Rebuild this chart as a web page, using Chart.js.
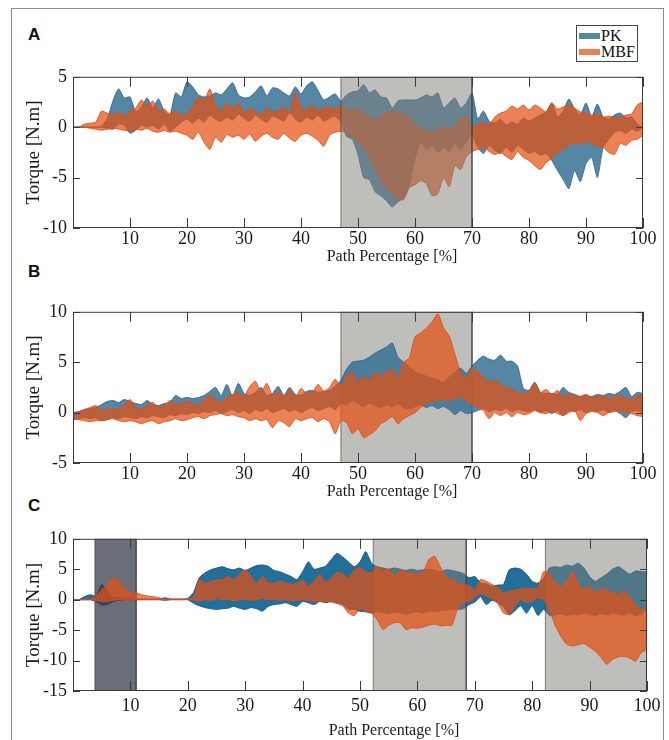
<!DOCTYPE html>
<html>
<head>
<meta charset="utf-8">
<script src="https://cdn.jsdelivr.net/npm/chart.js@4.4.0/dist/chart.umd.min.js"></script>
<style>
  body { margin: 0; background: #fff; width: 669px; height: 740px; overflow: hidden; position: relative; font-family: 'Liberation Serif', 'Times New Roman', serif; }
  .frame { position: absolute; left: 11px; top: 8px; width: 651px; height: 800px; border: 1px solid #8a8a8a; }
  .tag { position: absolute; left: 28px; font: bold 17px 'Liberation Sans', Arial, sans-serif; line-height: 18px; color: #111; }
  canvas { position: absolute; left: 0; }
  .legend { position: absolute; left: 576px; top: 25px; width: 62px; height: 37px; border: 1px solid #444; box-sizing: border-box; background: #fff; padding-top: 2px; }
  .legend .row { display: flex; align-items: center; height: 16px; font-size: 16px; color: #111; }
  .legend .sw { width: 21px; height: 6px; margin: 0 1px 0 2px; }
</style>
</head>
<body>
<div class="frame"></div>
<div class="tag" style="top:26px">A</div>
<div class="tag" style="top:263px">B</div>
<div class="tag" style="top:497px">C</div>
<canvas id="chartA" width="669" height="206" style="top:60px"></canvas>
<canvas id="chartB" width="669" height="206" style="top:295px"></canvas>
<canvas id="chartC" width="669" height="218" style="top:522px"></canvas>
<div class="legend" id="legend"></div>
<script>
// x positions of the samples (path percentage)
const pct = Array.from({ length: 101 }, (_, i) => i);
const xTicks = [10, 20, 30, 40, 50, 60, 70, 80, 90, 100];

// ---- Panel A ----
const pkUpA = [0, 0, 0, 0, 0, 0.1, 0.8, 2.6, 3.8, 2.9,
  3.0, 1.5, 2.0, 2.9, 1.9, 2.8, 1.6, 1.2, 3.4, 3.0,
  4.5, 4.0, 3.2, 3.0, 3.1, 3.4, 3.2, 3.8, 4.4, 3.2,
  2.9, 3.0, 3.5, 4.1, 3.1, 3.9, 3.8, 3.4, 3.1, 4.0,
  3.3, 4.1, 4.5, 3.6, 2.7, 3.0, 3.3, 2.6, 3.2, 3.5,
  3.6, 4.2, 3.4, 3.7, 3.0, 2.9, 1.9, 2.6, 2.7, 2.7,
  2.7, 2.9, 3.2, 3.0, 3.4, 1.9, 2.4, 2.9, 1.9, 2.4,
  3.4, 0.8, 1.6, 0.6, 0.4, 0.8, 0.2, 0.5, 0.3, 0.9,
  0.6, 0.9, 1.2, 1.5, 2.4, 1.0, 1.6, 2.8, 1.8, 1.2,
  2.4, 1.0, 2.3, 1.0, 0.8, 1.2, 1.4, 0.9, 1.0, 0.3, 0.0];
const pkLoA = [0, 0, 0, 0, 0, 0, -0.1, -0.2, 0.3, 0.2,
  -0.6, -0.3, 0.2, 0.0, 0.2, -0.2, 0.3, -0.4, 0.0, 0.5,
  0.8, 0.4, 0.9, 0.5, 1.2, 0.8, 0.6, 1.0, 0.7, 1.3,
  0.9, 0.6, 1.2, 0.8, 0.5, 1.1, 0.9, 0.6, 1.4, 0.8,
  0.5, 1.0, 0.7, 1.2, 0.6, 0.9, 1.1, 0.5, -0.9, -1.2,
  -2.7, -5.0, -5.2, -6.4, -6.8, -7.3, -7.9, -7.4, -7.0, -5.8,
  -3.0, -1.5, -2.2, -1.8, -2.5, -2.0, -2.4, -1.6, -2.2, -1.4,
  -0.8, -2.0, -2.6, -1.8, -2.3, -2.6, -2.0, -2.5, -1.8, -2.2,
  -2.6, -2.4, -2.8, -2.6, -3.3, -4.3, -5.2, -6.1, -4.3, -5.4,
  -3.6, -3.0, -5.0, -2.0, -1.2, -0.5, -0.3, -0.6, -0.2, -0.4, 0];
const mbfUpA = [0, 0, 0.3, 0.4, 0.5, 1.6, 1.4, 1.2, 1.5, 1.1,
  1.6, 1.9, 2.7, 2.1, 2.6, 1.6, 1.8, 1.3, 1.6, 1.2,
  1.4, 2.0, 3.0, 2.6, 3.8, 2.2, 1.6, 2.4, 1.8, 2.4,
  1.5, 1.8, 1.6, 1.2, 1.9, 1.5, 1.6, 2.0, 1.4, 3.4,
  2.0, 1.7, 2.2, 1.6, 1.9, 2.1, 1.8, 2.2, 1.8, 1.6,
  1.9, 1.3, 1.0, 0.7, 1.1, 1.4, 1.6, 1.5, 1.2, 1.0,
  0.3, -0.1, -0.3, -0.5, -0.2, 0.1, -0.3, 0.2, 0.8, 1.1,
  0.0, 0.3, 0.5, 0.2, 1.0, 1.4, 1.6, 2.1, 1.8, 2.2,
  1.7, 2.2, 1.9, 1.5, 2.4, 1.8, 2.0, 2.2, 1.9, 1.5,
  1.4, 1.2, 1.3, 1.0, 1.1, 0.9, 1.0, 1.2, 1.3, 2.2, 2.5];
const mbfLoA = [0, 0, 0, -0.1, -0.2, -0.3, -0.2, -0.1, -0.2, -0.3,
  -0.4, -0.2, -0.3, -0.1, -0.4, -0.5, -0.3, -0.5, -0.4, -0.6,
  -0.8, -1.2, -0.5, -1.5, -2.2, -1.0, -1.5, -0.7, -1.0, -0.8,
  -1.2, -0.7, -1.4, -0.9, -0.6, -1.0, -1.2, -0.6, -1.1, -1.4,
  -0.8, -0.6, -0.9, -1.3, -1.9, -0.8, -0.5, -0.4, -0.6, -1.0,
  -1.5, -2.0, -3.0, -4.0, -5.2, -6.0, -6.6, -7.1, -7.2, -6.0,
  -5.7, -5.3, -5.6, -6.8, -6.6, -5.0, -5.9, -3.8, -4.2, -2.9,
  -2.4, -2.2, -2.0, -2.4, -2.7, -2.5, -2.9, -3.2, -2.4, -3.0,
  -3.3, -3.8, -4.2, -3.5, -3.1, -2.5, -2.2, -1.8, -1.5, -1.7,
  -1.4, -1.6, -1.9, -2.0, -2.5, -2.7, -1.6, -1.8, -1.3, -1.2, -0.8];
const shadeA = [[47, 70]];
const yTicksA = [-10, -5, 0, 5];

// ---- Panel B ----
const pkUpB = [0.0, 0.1, 0.3, 0.4, 0.5, 0.8, 1.1, 1.2, 1.0, 1.3,
  1.1, 0.9, 0.8, 1.2, 0.8, 0.7, 0.9, 1.0, 1.7, 1.4,
  1.5, 1.4, 1.5, 1.7, 2.1, 2.5, 1.7, 2.8, 1.6, 2.9,
  1.9, 1.7, 2.0, 2.5, 1.7, 1.9, 2.6, 1.7, 2.5, 1.8,
  1.7, 2.1, 2.2, 2.0, 2.1, 2.2, 2.6, 3.2, 4.3, 5.0,
  5.1, 5.2, 5.5, 5.9, 6.2, 6.5, 6.9, 5.5, 5.0, 4.5,
  4.0, 3.8, 3.6, 3.4, 3.2, 3.0, 3.5, 4.0, 4.4, 3.9,
  4.6, 5.2, 5.6, 5.3, 5.2, 5.7, 5.1, 5.1, 4.6, 2.4,
  2.2, 3.0, 2.0, 1.9, 1.9, 1.8, 2.5, 2.0, 1.8, 1.6,
  1.7, 1.6, 1.8, 1.7, 1.9, 1.8, 2.1, 2.5, 1.6, 2.0, 1.9];
const pkLoB = [-0.7, -0.6, -0.5, -0.6, -0.5, -0.8, -0.7, -0.5, -0.6, -0.4,
  -0.5, -0.6, -0.4, -0.5, -0.3, -0.4, -0.5, -0.2, -0.3, -0.1,
  -0.2, 0.0, -0.1, 0.1, 0.0, 0.2, -0.1, 0.1, 0.3, 0.0,
  0.2, -0.1, 0.3, 0.1, 0.4, 0.0, 0.2, 0.4, 0.1, 0.3,
  0.0, 0.3, 0.5, 0.2, 0.4, 0.6, 0.3, 0.9, 0.8, 1.2,
  0.9, 0.6, 1.0, 0.7, 0.5, 0.8, 0.6, 0.9, 0.5, 0.4,
  0.6, 0.8, 0.5, 0.7, 0.4, 0.6, 0.3, -0.2, 0.2, -0.1,
  0.0, 0.2, 0.4, 0.1, 0.3, 0.2, 0.4, 0.1, 0.3, 0.2,
  0.1, 0.3, 0.0, 0.2, -0.1, 0.2, -0.3, 0.2, 0.1, 0.3,
  0.0, 0.2, 0.1, 0.3, 0.0, 0.2, -0.1, -0.5, 0.1, 0.2, 0.0];
const mbfUpB = [-0.5, 0.0, 0.3, 0.5, 0.7, 0.2, 0.4, 0.3, 0.4, 0.7,
  1.3, 0.5, 0.4, 0.7, 1.0, 0.5, 0.7, 1.2, 0.8, 0.9,
  1.1, 0.9, 0.7, 1.3, 1.7, 1.3, 1.0, 1.5, 1.8, 2.0,
  1.6, 2.6, 3.1, 2.0, 2.9, 1.7, 2.1, 1.6, 2.3, 1.5,
  2.4, 1.9, 2.0, 2.8, 2.1, 2.5, 3.3, 2.6, 3.6, 4.0,
  3.0, 3.6, 3.2, 4.0, 3.6, 4.0, 4.3, 3.4, 5.0, 5.4,
  7.5, 7.9, 8.4, 9.0, 9.8, 8.4, 7.6, 5.8, 4.0, 3.4,
  4.4, 4.0, 3.5, 3.0, 3.2, 2.8, 2.5, 2.3, 2.0, 1.9,
  2.1, 3.0, 2.0, 2.3, 1.8, 2.2, 1.6, 1.8, 1.7, 1.6,
  1.8, 1.5, 1.6, 1.7, 1.4, 1.6, 1.7, 1.4, 1.3, 1.6, 1.8];
const mbfLoB = [-0.6, -0.7, -0.8, -0.9, -0.8, -0.8, -0.7, -0.6, -0.8, -0.9,
  -0.8, -0.9, -1.1, -0.9, -0.8, -1.1, -0.9, -0.8, -0.6, -0.8,
  -0.7, -0.5, -0.4, -0.6, -0.3, -0.2, -0.1, -0.3, -0.2, -0.4,
  -0.5, -0.8, -0.6, -0.8, -0.7, -1.5, -0.8, -1.0, -1.4, -0.6,
  -0.8, -0.6, -0.5, -0.9, -0.6, -0.9, -2.1, -0.8, -1.0, -2.1,
  -1.6, -2.5, -2.2, -1.8, -1.1, -0.8, -0.4, -1.1, -0.6, -0.3,
  0.0, 0.5, 0.9, 1.1, 1.2, 1.3, 1.2, 1.4, 1.6, 1.2,
  0.8, 0.5, 0.2, -0.6, 0.0, -0.3, 0.0, -0.4, 0.0, -0.2,
  -0.1, 0.2, 0.0, -0.1, 0.1, -0.1, -0.3, 0.0, 0.2, -0.8,
  -0.1, 0.1, 0.0, -0.3, 0.0, 0.1, 0.2, 0.0, -0.1, -0.3, -0.4];
const shadeB = [[47, 70]];
const yTicksB = [-5, 0, 5, 10];

// ---- Panel C ----
const pkUpC = [0, 0, 0.5, 0.8, 0.6, 2.5, 1.5, 0.4, 0.3, 0.2,
  0.2, 0.1, 0.1, 0.1, 0.1, 0.1, 0.3, 0.1, 0.1, 0.1,
  0.2, 1.2, 3.6, 4.4, 4.9, 5.2, 5.4, 5.1, 4.9, 5.2,
  4.8, 5.2, 5.6, 5.7, 5.5, 4.8, 4.6, 4.2, 3.8, 3.3,
  4.6, 6.2, 5.0, 5.2, 5.5, 6.6, 7.6, 7.0, 6.2, 5.4,
  6.2, 7.9, 6.0, 5.4, 5.2, 5.0, 5.2, 5.0, 4.8, 5.0,
  4.8, 4.9, 5.0, 4.8, 4.6, 4.9, 4.8, 4.6, 4.3, 3.6,
  3.8, 2.8, 2.6, 2.2, 2.4, 2.5, 4.9, 5.2, 5.0, 4.2,
  3.0, 2.7, 3.5, 5.2, 5.4, 5.3, 5.7, 5.5, 6.0, 5.2,
  3.8, 3.0, 3.6, 4.2, 5.0, 5.4, 4.8, 4.2, 4.7, 4.6, 4.6];
const pkLoC = [0, 0, 0, 0, -0.3, -0.9, -0.8, -0.3, -0.1, 0,
  0, 0, 0, 0, 0, 0, -0.1, 0, 0, 0,
  0, -0.6, -1.0, -1.3, -1.5, -1.6, -1.5, -1.4, -1.1, -1.4,
  -1.6, -1.3, -1.5, -1.9, -1.1, -0.8, -0.7, -0.5, -0.8, -1.1,
  -0.3, -0.5, -0.8, -0.3, -0.5, -0.3, -0.6, -0.8, -1.6, -1.6,
  -1.9, -2.0, -2.2, -2.0, -2.1, -2.3, -2.0, -2.2, -2.4, -2.1,
  -2.0, -2.2, -1.9, -2.0, -1.8, -1.7, -1.6, -1.6, -1.5, -0.8,
  -0.4, 0.5, -0.8, -0.1, -0.5, -1.2, -2.5, -1.8, -1.0, -2.2,
  -1.0, -2.6, -1.6, -2.6, -2.5, -2.3, -2.6, -2.4, -2.5, -2.2,
  -2.4, -2.6, -2.3, -2.5, -2.2, -2.4, -2.5, -2.2, -2.6, -2.4, -1.5];
const mbfUpC = [0, 0, 0, 0, 0.6, 1.6, 2.5, 3.6, 3.0, 1.8,
  1.1, 1.1, 0.8, 0.6, 0.5, 0.3, 0.1, 0.1, 0.1, 0.1,
  0.1, 0.4, 3.3, 2.7, 3.0, 3.2, 3.3, 3.8, 3.3, 4.2,
  4.9, 3.8, 2.7, 3.8, 2.8, 2.7, 3.0, 2.8, 2.5, 2.7,
  3.2, 2.2, 3.0, 4.1, 2.8, 3.6, 4.5, 4.2, 3.5, 4.9,
  5.2, 4.6, 4.4, 5.4, 4.8, 5.0, 4.0, 4.8, 4.5, 4.4,
  4.2, 4.5, 6.6, 7.1, 5.4, 3.6, 3.3, 2.8, 2.5, 2.3,
  1.6, 3.3, 3.0, 2.5, 2.0, 1.2, 1.4, 1.6, 1.8, 1.9,
  1.8, 2.0, 4.6, 4.3, 2.8, 2.2, 3.0, 4.6, 2.7, 1.6,
  2.2, 1.2, 1.8, 1.6, 1.2, 0.8, 1.4, 0.4, -0.8, -1.6, -1.5];
const mbfLoC = [0, 0, 0, 0, -0.1, -0.3, -0.3, -0.1, 0, 0,
  0, 0, 0, 0, 0, 0, 0, 0, 0, 0,
  0, 0, -0.2, 0.0, -0.1, 0.2, 0.0, 0.1, -0.2, 0.0,
  0.1, -0.1, 0.0, 0.2, 0.0, 0.1, -0.1, 0.0, -0.2, -0.1,
  0.0, -0.1, -0.3, -0.2, -0.3, -0.4, -0.6, -1.0, -2.2, -2.6,
  -1.5, -1.8, -2.2, -3.3, -4.9, -4.2, -3.8, -3.8, -4.9, -4.6,
  -4.7, -4.5, -4.2, -4.0, -4.3, -4.2, -4.2, -1.5, -0.4, -0.3,
  0.4, 1.0, 0.6, 0.2, -0.6, -2.2, -2.4, -1.0, 0.0, -0.4,
  -0.3, 0.3, 0.0, -1.6, -4.2, -6.0, -7.3, -7.6, -7.4, -7.2,
  -7.8, -8.5, -9.5, -10.6, -9.8, -9.4, -9.3, -9.6, -10.1, -8.7, -8.2];
const darkShadeC = [[3.8, 11.0]];
const shadeC = [[52.3, 68.5], [82.3, 100]];
const yTicksC = [-15, -10, -5, 0, 5, 10];

// colours
const pkFill = 'rgba(62,118,152,0.88)', pkLine = 'rgba(45,92,150,0.9)';
const pkFillC = 'rgba(15,100,145,0.92)', pkLineC = 'rgba(20,80,140,0.95)';
const mbfFill = 'rgba(228,80,20,0.72)', mbfLine = 'rgba(225,75,25,0.9)';
const greyShade = 'rgba(125,125,118,0.5)';
const darkShade = 'rgba(55,62,75,0.75)';

const serif = 'Liberation Serif';
const ink = '#1a1a1a';

// inward ticks on all four sides, the box, and the x title (sits right of centre)
const boxTicks = {
  id: 'boxTicks',
  afterDraw(chart, args, opts) {
    const { ctx, chartArea: a, scales: { x, y } } = chart;
    ctx.save();
    ctx.strokeStyle = '#3a3a3a';
    ctx.lineWidth = 1;
    ctx.beginPath();
    x.ticks.forEach(t => {
      const px = Math.round(x.getPixelForValue(t.value)) + 0.5;
      ctx.moveTo(px, a.bottom); ctx.lineTo(px, a.bottom - 10);
      ctx.moveTo(px, a.top); ctx.lineTo(px, a.top + 10);
    });
    y.ticks.forEach(t => {
      const py = Math.round(y.getPixelForValue(t.value)) + 0.5;
      ctx.moveTo(a.left, py); ctx.lineTo(a.left + 7, py);
      ctx.moveTo(a.right, py); ctx.lineTo(a.right - 7, py);
    });
    ctx.stroke();
    ctx.strokeRect(a.left + 0.5, a.top + 0.5, a.width - 1, a.height - 1);

    ctx.fillStyle = ink;
    ctx.font = '16px ' + serif;
    ctx.textAlign = 'center';
    ctx.textBaseline = 'middle';
    ctx.fillText(opts.text, (a.left + a.right) / 2 + opts.dx, x.bottom - 9.6);
    ctx.restore();
  }
};

function band(up, lo, fill, line, order) {
  return [
    { data: up, fill: '+1', backgroundColor: fill, borderColor: line, borderWidth: 1, order: order },
    { data: lo, fill: false, backgroundColor: fill, borderColor: line, borderWidth: 1, order: order }
  ];
}

function shade(span, yMin, yMax, color, order) {
  return {
    data: [{ x: span[0], y: yMin }, { x: span[0], y: yMax }, { x: span[1], y: yMax }, { x: span[1], y: yMin }],
    fill: 'start', backgroundColor: color, borderColor: 'rgba(70,70,70,0.7)', borderWidth: 1,
    tension: 0, order: order
  };
}

function makeChart(id, datasets, yTicks, opts) {
  new Chart(document.getElementById(id), {
    type: 'line',
    data: { labels: pct, datasets: datasets },
    options: {
      responsive: false,
      animation: false,
      devicePixelRatio: 1,
      layout: { padding: { top: 15, right: opts.right, left: 0, bottom: 0 } },
      elements: { point: { radius: 0 }, line: { tension: 0.2 } },
      plugins: {
        legend: { display: false },
        tooltip: { enabled: false },
        boxTicks: { text: 'Path Percentage [%]', dx: 34 }
      },
      scales: {
        x: {
          type: 'linear', min: 0, max: 100,
          grid: { display: false, drawTicks: false },
          border: { display: false },
          afterBuildTicks: s => { s.ticks = xTicks.map(v => ({ value: v })); },
          ticks: { color: ink, font: { family: serif, size: 18 }, padding: opts.xPad, maxRotation: 0, autoSkip: false, callback: v => v },
          title: { display: false },
          afterFit: s => { s.height = opts.xh; }
        },
        y: {
          type: 'linear', min: yTicks[0], max: yTicks[yTicks.length - 1],
          grid: { display: false, drawTicks: false },
          border: { display: false },
          afterBuildTicks: s => { s.ticks = yTicks.map(v => ({ value: v })); },
          ticks: { color: ink, font: { family: serif, size: 18 }, padding: 6, callback: v => v },
          title: { display: true, text: 'Torque [N.m]', color: ink, font: { family: serif, size: 19 }, padding: { top: 22.6, bottom: 0 } },
          afterFit: s => { s.width = 73; }
        }
      }
    },
    plugins: [boxTicks]
  });
}

// A: grey region laid over both bands
makeChart('chartA', [
  ...band(pkUpA, pkLoA, pkFill, pkLine, 4),
  ...band(mbfUpA, mbfLoA, mbfFill, mbfLine, 3),
  ...shadeA.map(s => shade(s, yTicksA[0], yTicksA[yTicksA.length - 1], greyShade, 1))
], yTicksA, { right: 26, xh: 38, xPad: 0 });

// B: grey region under both bands
makeChart('chartB', [
  ...band(pkUpB, pkLoB, pkFill, pkLine, 4),
  ...band(mbfUpB, mbfLoB, mbfFill, mbfLine, 3),
  ...shadeB.map(s => shade(s, yTicksB[0], yTicksB[yTicksB.length - 1], greyShade, 5))
], yTicksB, { right: 26, xh: 38, xPad: 0 });

// C: shading between PK and MBF
makeChart('chartC', [
  ...band(pkUpC, pkLoC, pkFillC, pkLineC, 4),
  ...band(mbfUpC, mbfLoC, mbfFill, mbfLine, 1),
  ...darkShadeC.map(s => shade(s, yTicksC[0], yTicksC[yTicksC.length - 1], darkShade, 2)),
  ...shadeC.map(s => shade(s, yTicksC[0], yTicksC[yTicksC.length - 1], greyShade, 2))
], yTicksC, { right: 22, xh: 49, xPad: 4 });

// legend
const legendItems = [['PK', 'rgb(85,134,164)'], ['MBF', 'rgb(236,129,86)']];
document.getElementById('legend').innerHTML = legendItems
  .map(([name, col]) => '<div class="row"><span class="sw" style="background:' + col + '"></span>' + name + '</div>')
  .join('');
</script>
</body>
</html>
